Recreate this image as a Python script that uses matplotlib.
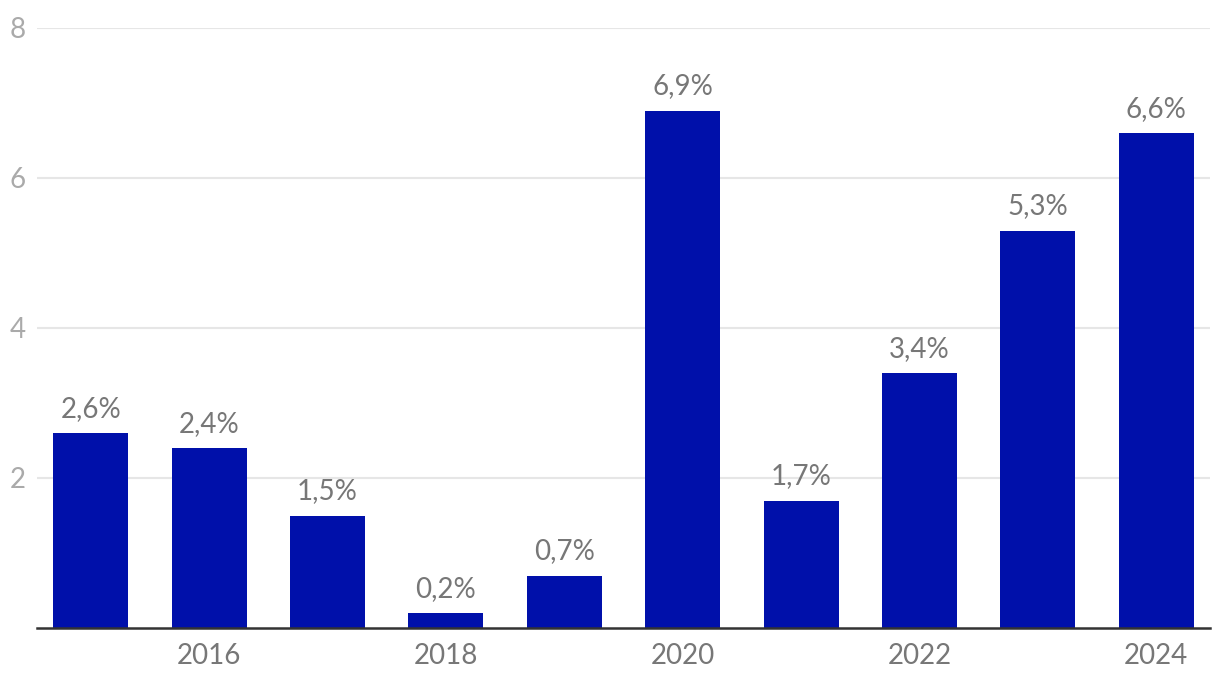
import matplotlib
matplotlib.use("Agg")
import matplotlib.pyplot as plt

years = [2015, 2016, 2017, 2018, 2019, 2020, 2021, 2022, 2023, 2024]
values = [2.6, 2.4, 1.5, 0.2, 0.7, 6.9, 1.7, 3.4, 5.3, 6.6]
labels = ["2,6%", "2,4%", "1,5%", "0,2%", "0,7%", "6,9%", "1,7%", "3,4%", "5,3%", "6,6%"]
xticks = [2016, 2018, 2020, 2022, 2024]
yticks = [2, 4, 6, 8]

plt.rcParams['font.family'] = ['Lato', 'DejaVu Sans']

fig = plt.figure(figsize=(12.2, 6.9), dpi=100)
ax = fig.add_axes([37/1220, 1-628/690, (1210-37)/1220, (628-28)/690])

bars = ax.bar(years, values, width=0.634, color='#0010AA', zorder=3)
for x, v, lab in zip(years, values, labels):
    ax.annotate(lab, (x, v), xytext=(0, 8), textcoords='offset points',
                ha='center', va='bottom', fontsize=20, color='#777777')

ax.set_xlim(2015 - 0.455, 2024 + 0.455)
ax.set_ylim(0, 8)
ax.set_xticks(xticks)
ax.set_xticklabels([str(t) for t in xticks])
ax.set_yticks(yticks)
ax.set_yticklabels([str(t) for t in yticks])
ax.tick_params(axis='x', length=0, pad=11, labelsize=20, labelcolor='#777777')
ax.tick_params(axis='y', length=0, pad=8, labelsize=20, labelcolor='#AAAAAA')
ax.grid(axis='y', color='#E6E6E6', linewidth=1.5, zorder=0)
for s in ['top', 'right', 'left']:
    ax.spines[s].set_visible(False)
ax.spines['bottom'].set_color('#333333')
ax.spines['bottom'].set_linewidth(1.8)
ax.spines['bottom'].set_zorder(4)

fig.savefig('out.png', dpi=100)
